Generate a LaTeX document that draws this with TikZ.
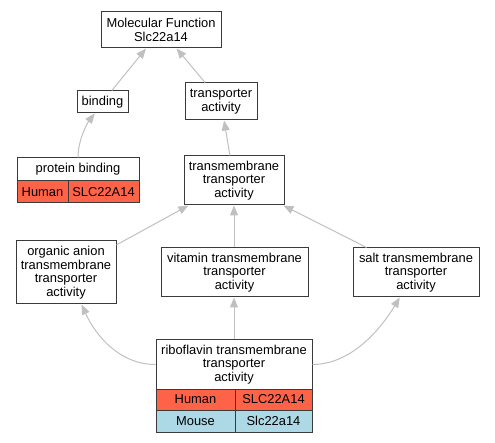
\documentclass[tikz,border=0pt]{standalone}
\usepackage{fontspec}
\setmainfont{Liberation Sans}
\usetikzlibrary{arrows.meta,calc}
\definecolor{edgegray}{HTML}{C0C0C0}
\definecolor{bordergray}{HTML}{3A3A3A}
\definecolor{humanred}{HTML}{FF6347}
\definecolor{mouseblue}{HTML}{ADD8E6}
\tikzset{
  box/.style={draw=bordergray,line width=1pt,fill=white,align=center,inner sep=0pt,
    font=\fontsize{12.9}{13.5}\selectfont},
  hcell/.style={box,fill=humanred},
  mcell/.style={box,fill=mouseblue},
  edge/.style={draw=edgegray,line width=1pt,-{Triangle[length=10pt,width=8pt,fill=edgegray]}},
}
\begin{document}
\begin{tikzpicture}[x=1pt,y=-1pt]
\useasboundingbox (0,0) rectangle (495,443);
% nodes
\node[box,minimum width=120pt,minimum height=36pt] (mf) at (161,30) {Molecular Function\\Slc22a14};
\node[box,minimum width=51pt,minimum height=22pt] (bind) at (102.5,102) {binding};
\node[box,minimum width=72pt,minimum height=37pt] (ta) at (221,101.5) {transporter\\activity};
\node[box,minimum width=100pt,minimum height=49pt] (tta) at (234,180.5) {transmembrane\\transporter\\activity};
% protein binding table
\node[box,minimum width=122pt,minimum height=23pt] (pb) at (78,169.5) {protein binding};
\node[hcell,minimum width=51pt,minimum height=22pt] (pbh) at (42.5,192) {Human};
\node[hcell,minimum width=71pt,minimum height=22pt] (pbg) at (103.5,192) {SLC22A14};
% middle row
\node[box,minimum width=100pt,minimum height=63pt] (oa) at (66,272.5) {organic anion\\transmembrane\\transporter\\activity};
\node[box,minimum width=147pt,minimum height=49pt] (vit) at (234.5,272.5) {vitamin transmembrane\\transporter\\activity};
\node[box,minimum width=126pt,minimum height=49pt] (salt) at (416,272.5) {salt transmembrane\\transporter\\activity};
% riboflavin table
\node[box,minimum width=156pt,minimum height=49pt] (rib) at (234,364.5) {riboflavin transmembrane\\transporter\\activity};
\node[hcell,minimum width=79pt,minimum height=21pt] (ribh) at (195.5,399.5) {Human};
\node[hcell,minimum width=77pt,minimum height=21pt] (ribhg) at (273.5,399.5) {SLC22A14};
\node[mcell,minimum width=79pt,minimum height=22pt] (ribm) at (195.5,421) {Mouse};
\node[mcell,minimum width=77pt,minimum height=22pt] (ribmg) at (273.5,421) {Slc22a14};
% edges
\draw[edge] (bind) -- (mf);
\draw[edge] (ta) -- (mf);
\draw[edge] (tta) -- (ta);
\draw[edge] (pb.north) .. controls ($(pb.north)+(0,-18)$) and ($(bind.236)+(-7,9)$) .. (bind.236);
\draw[edge] (oa) -- (tta);
\draw[edge] (vit.north -| tta.south) -- (tta.south);
\draw[edge] (salt) -- (tta);
\draw[edge] (rib.west) .. controls ($(rib.west)+(-36,0)$) and ($(oa.-64.5)+(14,31)$) .. (oa.-64.5);
\draw[edge] (rib.north) -- (rib.north |- vit.south);
\draw[edge] (rib.east) .. controls ($(rib.east)+(38,0)$) and ($(salt.237)+(-20,33)$) .. (salt.237);
\end{tikzpicture}
\end{document}
